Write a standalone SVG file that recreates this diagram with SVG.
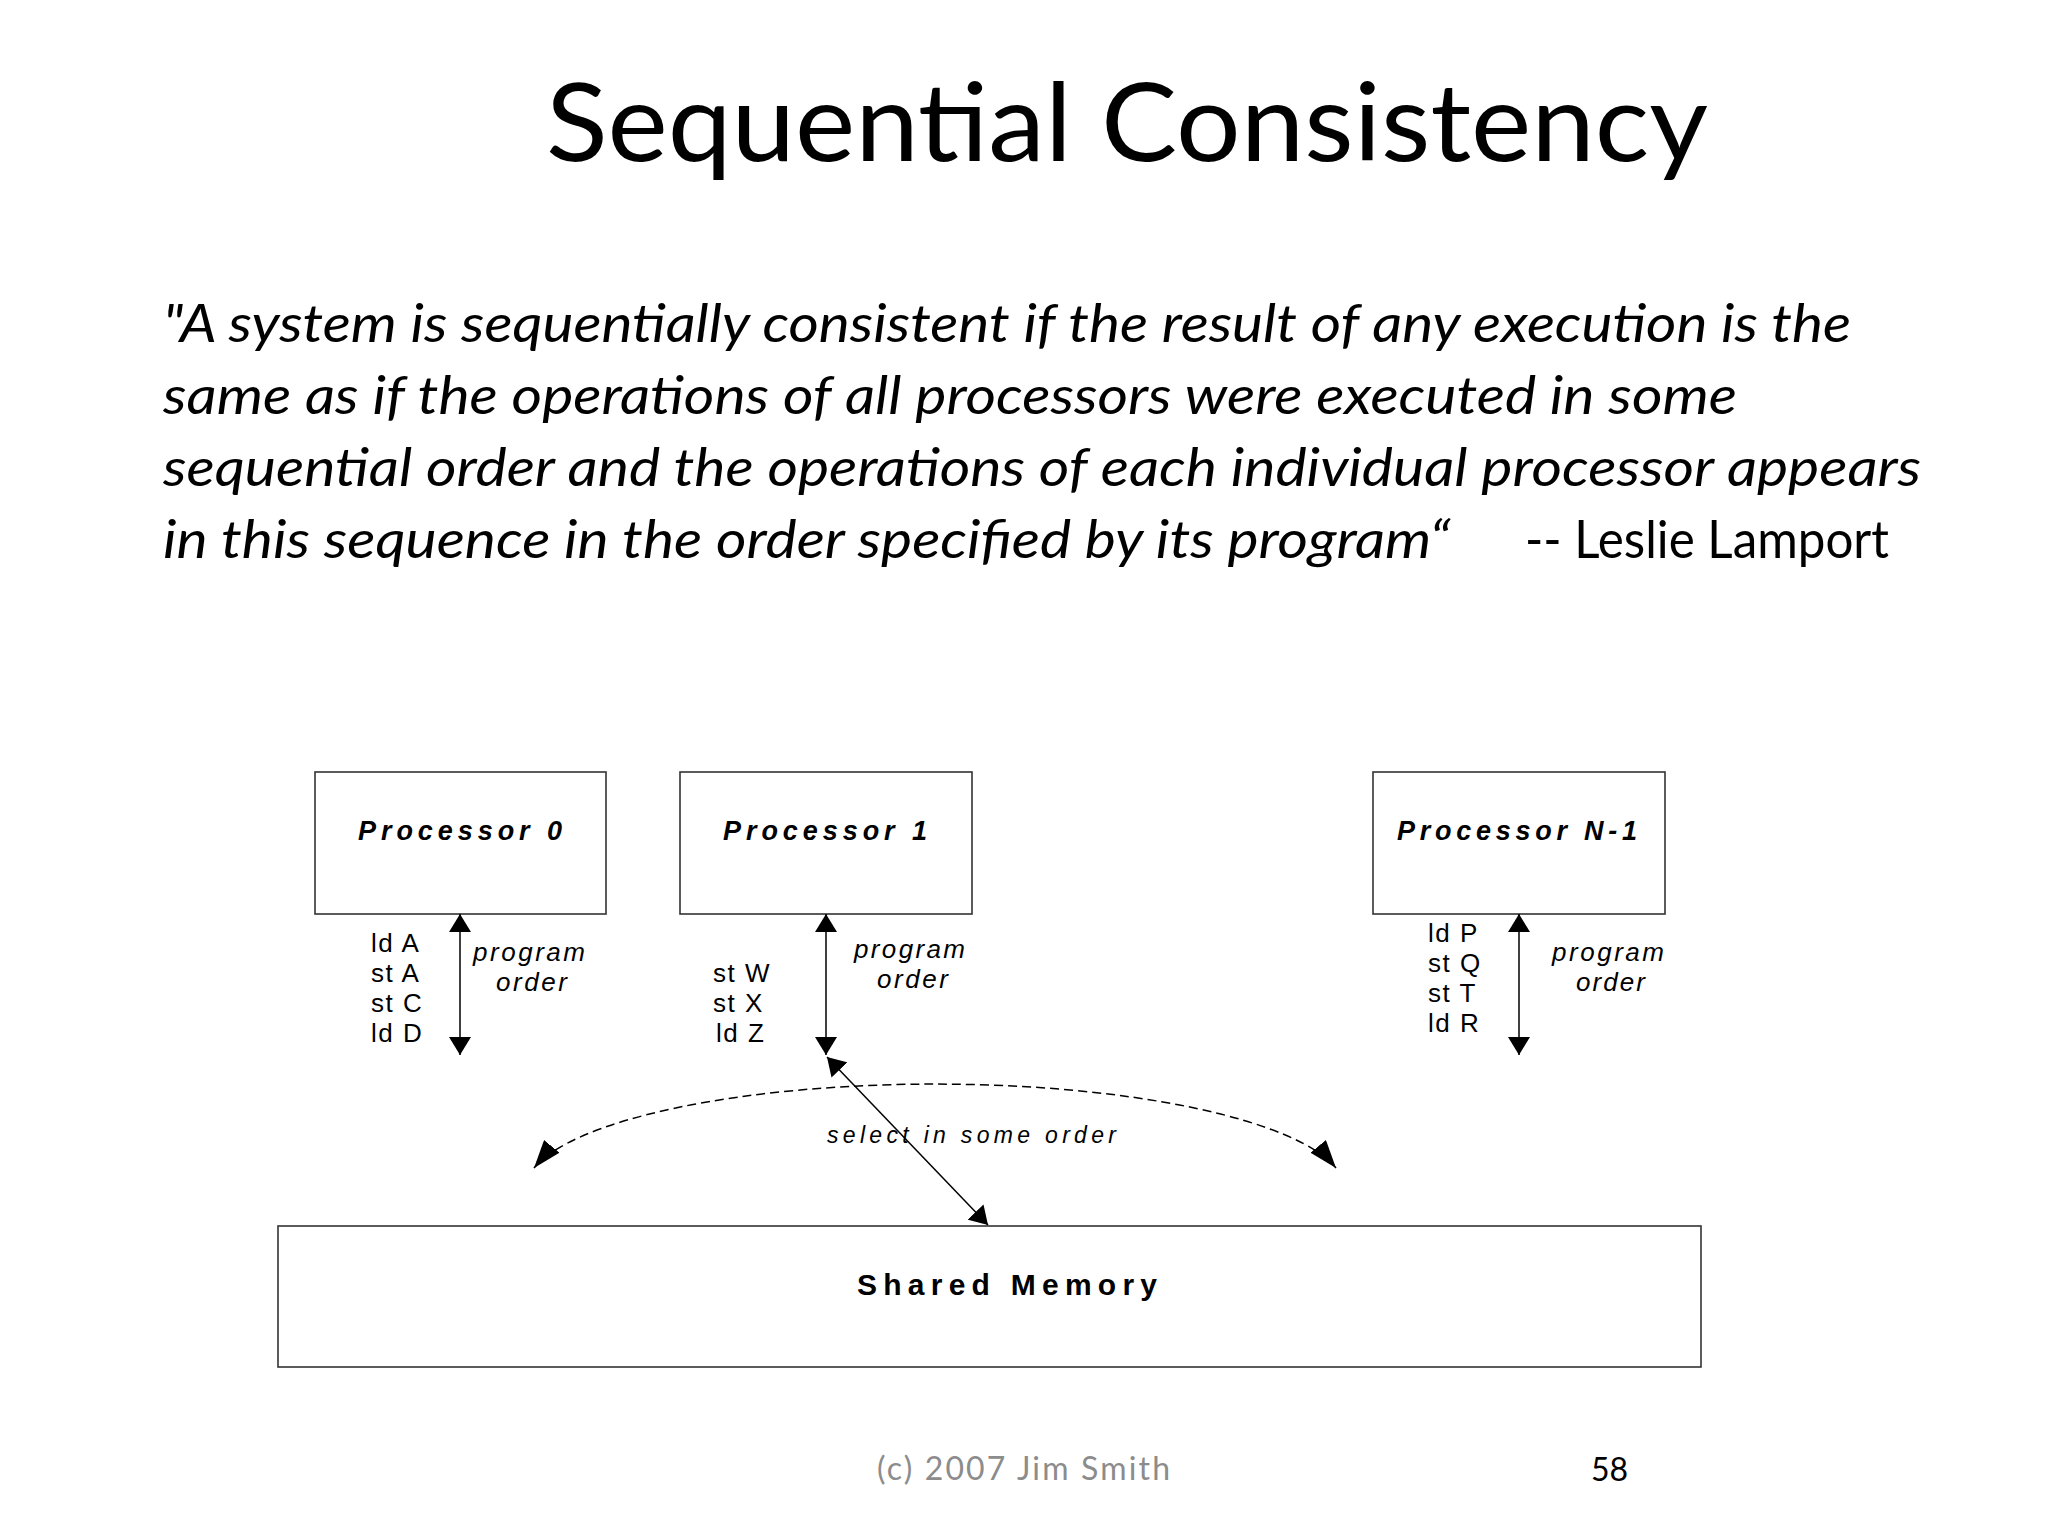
<svg xmlns="http://www.w3.org/2000/svg" width="2048" height="1536" viewBox="0 0 2048 1536">
<defs>
<style>
.box{fill:#fff;stroke:#333;stroke-width:1.6}
.proc{font-family:"Liberation Sans",Arial,sans-serif;font-weight:bold;font-style:italic;font-size:27px;fill:#000}
.ins{font-family:"Liberation Sans",Arial,sans-serif;font-size:26px;letter-spacing:1.5px;fill:#000}
.po{font-family:"Liberation Sans",Arial,sans-serif;font-style:italic;font-size:26px;letter-spacing:3px;fill:#000}
.conn{stroke:#000;stroke-width:1.5;fill:none}
.dash{stroke-dasharray:9 5}
.slide{font-family:Lato,"Open Sans",sans-serif;fill:#000}
</style>
<marker id="ah" viewBox="0 0 18 22" refX="18" refY="11" markerWidth="18" markerHeight="22" markerUnits="userSpaceOnUse" orient="auto-start-reverse">
<path d="M0,0 L18,11 L0,22 Z" fill="#000"/>
</marker>
<marker id="ah2" viewBox="0 0 28 20" refX="28" refY="10" markerWidth="28" markerHeight="20" markerUnits="userSpaceOnUse" orient="auto-start-reverse">
<path d="M0,0 L28,10 L0,20 Z" fill="#000"/>
</marker>
</defs>
<rect width="2048" height="1536" fill="#fff"/>

<text class="slide" x="546" y="161" font-size="108" textLength="1162" lengthAdjust="spacingAndGlyphs">Sequential Consistency</text>

<g class="slide" font-size="53">
<text x="163" y="342" font-style="italic" textLength="1688" lengthAdjust="spacingAndGlyphs">"A system is sequentially consistent if the result of any execution is the</text>
<text x="163" y="414" font-style="italic" textLength="1574" lengthAdjust="spacingAndGlyphs">same as if the operations of all processors were executed in some</text>
<text x="163" y="486" font-style="italic" textLength="1758" lengthAdjust="spacingAndGlyphs">sequential order and the operations of each individual processor appears</text>
<text x="163" y="558" font-style="italic" textLength="1287" lengthAdjust="spacingAndGlyphs">in this sequence in the order specified by its program“</text>
<text x="1525" y="558" textLength="364" lengthAdjust="spacingAndGlyphs">-- Leslie Lamport</text>
</g>

<g id="processor0">
<rect class="box" x="315" y="772" width="291" height="142"/>
<text class="proc" x="358" y="840" textLength="204">Processor 0</text>
<text class="ins" x="371" y="952">ld A</text>
<text class="ins" x="371" y="982">st A</text>
<text class="ins" x="371" y="1012">st C</text>
<text class="ins" x="371" y="1042">ld D</text>
<text class="po" x="473" y="961" textLength="115">program</text>
<text class="po" x="496" y="991" textLength="74">order</text>
</g>

<g id="processor1">
<rect class="box" x="680" y="772" width="292" height="142"/>
<text class="proc" x="723" y="840" textLength="204">Processor 1</text>
<text class="ins" x="713" y="982">st W</text>
<text class="ins" x="713" y="1012">st X</text>
<text class="ins" x="716" y="1042">ld Z</text>
<text class="po" x="854" y="958" textLength="114">program</text>
<text class="po" x="877" y="988" textLength="74">order</text>
</g>

<g id="processorN1">
<rect class="box" x="1373" y="772" width="292" height="142"/>
<text class="proc" x="1397" y="840" textLength="240">Processor N-1</text>
<text class="ins" x="1428" y="942">ld P</text>
<text class="ins" x="1428" y="972">st Q</text>
<text class="ins" x="1428" y="1002">st T</text>
<text class="ins" x="1428" y="1032">ld R</text>
<text class="po" x="1552" y="961" textLength="115">program</text>
<text class="po" x="1576" y="991" textLength="72">order</text>
</g>

<g id="sharedMemory">
<rect class="box" x="278" y="1226" width="1423" height="141"/>
<text x="857" y="1295" font-family="Liberation Sans, Arial, sans-serif" font-weight="bold" font-size="30" textLength="300">Shared Memory</text>
</g>

<g id="connectors">
<line class="conn" x1="460" y1="914" x2="460" y2="1055" marker-start="url(#ah)" marker-end="url(#ah)"/>
<line class="conn" x1="826" y1="914" x2="826" y2="1055" marker-start="url(#ah)" marker-end="url(#ah)"/>
<line class="conn" x1="1519" y1="914" x2="1519" y2="1055" marker-start="url(#ah)" marker-end="url(#ah)"/>
<line class="conn" x1="827" y1="1057" x2="988" y2="1225" marker-start="url(#ah)" marker-end="url(#ah)"/>
<path class="conn dash" d="M534,1168 A410,106 0 0 1 1336,1168" marker-start="url(#ah2)" marker-end="url(#ah2)"/>
<text x="827" y="1143" font-family="Liberation Sans, Arial, sans-serif" font-style="italic" font-size="23" textLength="289">select in some order</text>
</g>

<text x="877" y="1480" font-family="Lato, 'Open Sans', sans-serif" font-size="32" fill="#8c8c8c" textLength="293">(c) 2007 Jim Smith</text>
<text x="1591" y="1481" font-family="Lato, 'Open Sans', sans-serif" font-size="32" fill="#000">58</text>
</svg>
